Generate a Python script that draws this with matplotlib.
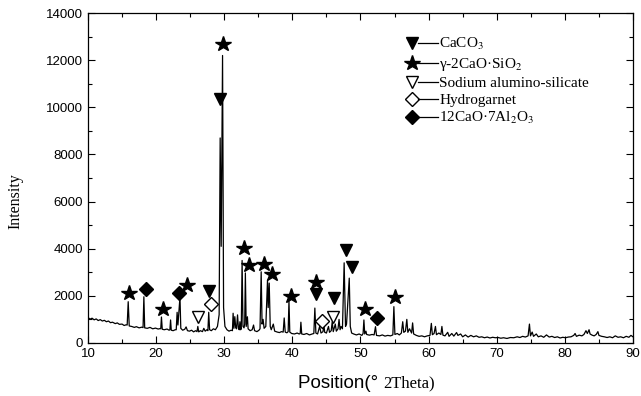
import numpy as np
import matplotlib
matplotlib.use("Agg")
import matplotlib.pyplot as plt
from matplotlib.ticker import MultipleLocator

# --- DATA ---
two_theta = [
    10.0, 10.3, 10.6, 10.9, 11.2, 11.5, 11.8, 12.1, 12.4, 12.7, 13.0, 13.3, 13.6, 14.0, 14.3, 14.6,
    15.0, 15.3, 15.6, 15.75, 15.9, 16.05, 16.4, 16.8, 17.1, 17.5, 17.9, 18.08, 18.2, 18.32,
    18.7, 19.1, 19.5, 19.9, 20.3, 20.6, 20.68, 20.78, 20.9, 21.2, 21.6, 21.9, 22.02, 22.12, 22.22,
    22.5, 22.8, 22.95, 23.08, 23.2, 23.5, 23.62, 23.9, 24.2, 24.4, 24.6, 24.9, 25.2, 25.5, 25.8,
    26.0, 26.12, 26.25, 26.5, 26.8, 27.0, 27.2, 27.45, 27.6, 27.72, 27.85, 28.1, 28.4, 28.7,
    29.0, 29.25, 29.4, 29.55, 29.75, 29.9, 30.1, 30.4, 30.7, 31.0,
    31.2, 31.3, 31.42, 31.55, 31.68, 31.8, 31.95, 32.08, 32.2, 32.3, 32.4, 32.5, 32.62, 32.75,
    32.9, 33.0, 33.1, 33.22, 33.4, 33.5, 33.8, 34.1, 34.3, 34.45, 34.8, 35.1, 35.25,
    35.42, 35.55, 35.7, 35.85, 36.1, 36.35, 36.45, 36.6, 36.75, 36.9, 37.2, 37.4, 37.8, 38.1,
    38.4, 38.65, 38.8, 38.95, 39.2, 39.38, 39.5, 39.62, 39.9, 40.3, 40.7, 41.0, 41.15, 41.25,
    41.37, 41.7, 42.1, 42.5, 42.9, 43.15, 43.3, 43.45, 43.7, 44.0, 44.2, 44.5, 44.6, 44.75,
    45.0, 45.3, 45.45, 45.7, 45.85, 46.0, 46.3, 46.45, 46.7, 46.85, 47.0, 47.15, 47.35, 47.6,
    47.8, 47.95, 48.35, 48.5, 48.7, 49.0, 49.4, 49.8, 50.2, 50.38, 50.5, 50.62, 50.8, 50.9,
    51.3, 51.7, 52.0, 52.2, 52.35, 52.8, 53.2, 53.6, 54.0, 54.4, 54.75, 54.9, 55.05, 55.4,
    55.7, 56.0, 56.2, 56.35, 56.6, 56.8, 56.95, 57.2, 57.5, 57.65, 57.8, 58.2, 58.6, 59.0,
    59.4, 59.8, 60.2, 60.4, 60.55, 60.8, 61.0, 61.15, 61.5, 61.8, 61.95, 62.1, 62.4, 62.8,
    63.0, 63.4, 63.7, 64.1, 64.3, 64.7, 65.0, 65.4, 65.8, 66.2, 66.6, 67.0, 67.4, 67.8, 68.2,
    68.6, 69.0, 69.4, 69.8, 70.2, 70.6, 71.0, 71.5, 72.0, 72.5, 73.0, 73.4, 73.8, 74.2, 74.6,
    74.8, 74.95, 75.2, 75.4, 75.8, 76.1, 76.5, 76.9, 77.3, 77.7, 78.1, 78.5, 78.9, 79.3, 79.7,
    80.1, 80.5, 80.9, 81.3, 81.5, 81.7, 82.1, 82.5, 82.8, 83.1, 83.3, 83.55, 83.7, 84.0, 84.3,
    84.6, 84.85, 85.0, 85.4, 85.8, 86.2, 86.6, 87.0, 87.4, 87.8, 88.2, 88.6, 89.0, 89.4, 89.7, 90.0,
]
intensity = [
    1080, 1010, 1050, 980, 1020, 950, 990, 930, 960, 900, 930, 860, 880, 820, 850, 790,
    800, 740, 770, 760, 1750, 720, 700, 660, 690, 640, 670, 650, 1960, 640,
    620, 660, 600, 630, 590, 610, 600, 1100, 580, 560, 590, 540, 560, 975, 540,
    520, 560, 560, 1300, 760, 1950, 620, 540, 580, 680, 520, 500, 540, 470, 520,
    480, 700, 470, 520, 480, 620, 500, 560, 520, 1300, 560, 520, 600, 560,
    700, 1200, 8700, 4100, 12200, 1500, 700, 560, 500, 540,
    520, 1260, 620, 1115, 650, 600, 1190, 620, 560, 900, 560, 600, 3500, 700,
    640, 800, 2970, 700, 1110, 600, 520, 560, 760, 520, 480, 540, 600,
    3020, 800, 1000, 620, 700, 2670, 1500, 2540, 700, 560, 800, 500, 460, 440,
    480, 460, 1060, 460, 430, 480, 1800, 460, 400, 380, 420, 380, 400, 880,
    380, 360, 400, 340, 380, 400, 1480, 420, 380, 700, 420, 480, 800, 450,
    420, 700, 450, 520, 900, 480, 800, 500, 600, 1000, 560, 700, 600, 3400,
    700, 800, 2750, 700, 420, 380, 340, 380, 320, 400, 975, 380, 500, 360,
    330, 360, 340, 690, 320, 300, 340, 290, 320, 300, 340, 1540, 360, 400,
    340, 420, 900, 450, 500, 1000, 450, 600, 420, 850, 380, 320, 280, 300,
    260, 300, 320, 830, 350, 400, 700, 350, 420, 360, 700, 330, 300, 450,
    280, 400, 290, 440, 320, 380, 260, 340, 250, 320, 260, 300, 240, 260, 220,
    250, 210, 240, 220, 230, 200, 220, 190, 230, 220, 260, 230, 280, 250, 300,
    800, 300, 460, 280, 380, 260, 300, 240, 340, 250, 280, 230, 260, 210, 240,
    220, 250, 260, 320, 400, 280, 330, 300, 360, 520, 400, 560, 380, 330, 300,
    360, 480, 320, 280, 260, 230, 260, 220, 300, 240, 260, 220, 280, 240, 320, 260,
]

# phase markers (position, height of symbol)
caco3_x = [27.74, 29.35, 43.43, 46.1, 47.93, 48.81]
caco3_y = [2220, 10370, 2060, 1890, 3940, 3240]
c2s_x = [16.05, 20.95, 24.47, 29.84, 32.92, 33.65, 35.85, 37.08, 39.77, 43.43, 50.71, 55.02]
c2s_y = [2130, 1430, 2460, 12680, 4040, 3290, 3360, 2910, 2010, 2600, 1430, 1960]
nas_x = [26.17, 45.97]
nas_y = [1115, 1120]
hg_x = [28.03, 44.36]
hg_y = [1650, 950]
c12a7_x = [18.46, 23.34, 52.42]
c12a7_y = [2290, 2110, 1050]

phase_labels = ['CaCO$_3$', 'γ-2CaO·SiO$_2$', 'Sodium alumino-silicate',
                'Hydrogarnet', '12CaO·7Al$_2$O$_3$']

plt.rcParams['mathtext.fontset'] = 'stix'

fig = plt.figure(figsize=(6.41, 3.96), dpi=100)
ax = fig.add_axes([0.1373, 0.134, 0.8502, 0.833])

ax.plot(two_theta, intensity, color='black', linewidth=0.9, zorder=2)

# marker styles for each phase
styles = [
    dict(marker='v', color='black', markersize=8),
    dict(marker='*', color='black', markersize=11.5),
    dict(marker='v', markerfacecolor='white', markeredgecolor='black', markersize=8, markeredgewidth=1.0),
    dict(marker='D', markerfacecolor='white', markeredgecolor='black', markersize=7, markeredgewidth=1.0),
    dict(marker='D', color='black', markersize=7),
]
phase_data = [(caco3_x, caco3_y), (c2s_x, c2s_y), (nas_x, nas_y), (hg_x, hg_y), (c12a7_x, c12a7_y)]
for (px, py), st in zip(phase_data, styles):
    ax.plot(px, py, linestyle='none', zorder=3, **st)

# hand-made legend: marker, a short dash, then the name
leg_rows = [0.908, 0.848, 0.792, 0.739, 0.686]
for yy, st, lab in zip(leg_rows, styles, phase_labels):
    ax.plot([0.5945], [yy], transform=ax.transAxes, linestyle='none', clip_on=False, **st)
    ax.plot([0.606, 0.643], [yy, yy], transform=ax.transAxes, color='black', linewidth=0.9)
    ax.text(0.6445, yy - 0.015, lab, transform=ax.transAxes, fontfamily='Liberation Serif',
            fontsize=11, ha='left', va='baseline')

ax.set_xlim(10, 90)
ax.set_ylim(0, 14000)
ax.xaxis.set_major_locator(MultipleLocator(10))
ax.xaxis.set_minor_locator(MultipleLocator(5))
ax.yaxis.set_major_locator(MultipleLocator(2000))
ax.yaxis.set_minor_locator(MultipleLocator(1000))
ax.tick_params(which='both', direction='in', top=True, right=True, width=0.8)
ax.tick_params(which='major', length=5, labelsize=9.5)
ax.tick_params(which='minor', length=3)
for lbl in ax.get_xticklabels() + ax.get_yticklabels():
    lbl.set_fontfamily('Liberation Sans')
for sp in ax.spines.values():
    sp.set_linewidth(0.9)

ax.set_ylabel('Intensity', fontfamily='Liberation Serif', fontsize=11.5)
ax.yaxis.set_label_coords(-0.118, 0.43)

# x label mixes a sans part and a serif part
t1 = fig.text(0.465, 0.021, 'Position(° ', fontfamily='Liberation Sans', fontsize=13.5,
              ha='left', va='baseline')
ax.annotate('2Theta)', xy=(1, 0), xycoords=t1, fontfamily='Liberation Serif', fontsize=12,
            ha='left', va='bottom', annotation_clip=False)

fig.savefig('out.png', dpi=100)
